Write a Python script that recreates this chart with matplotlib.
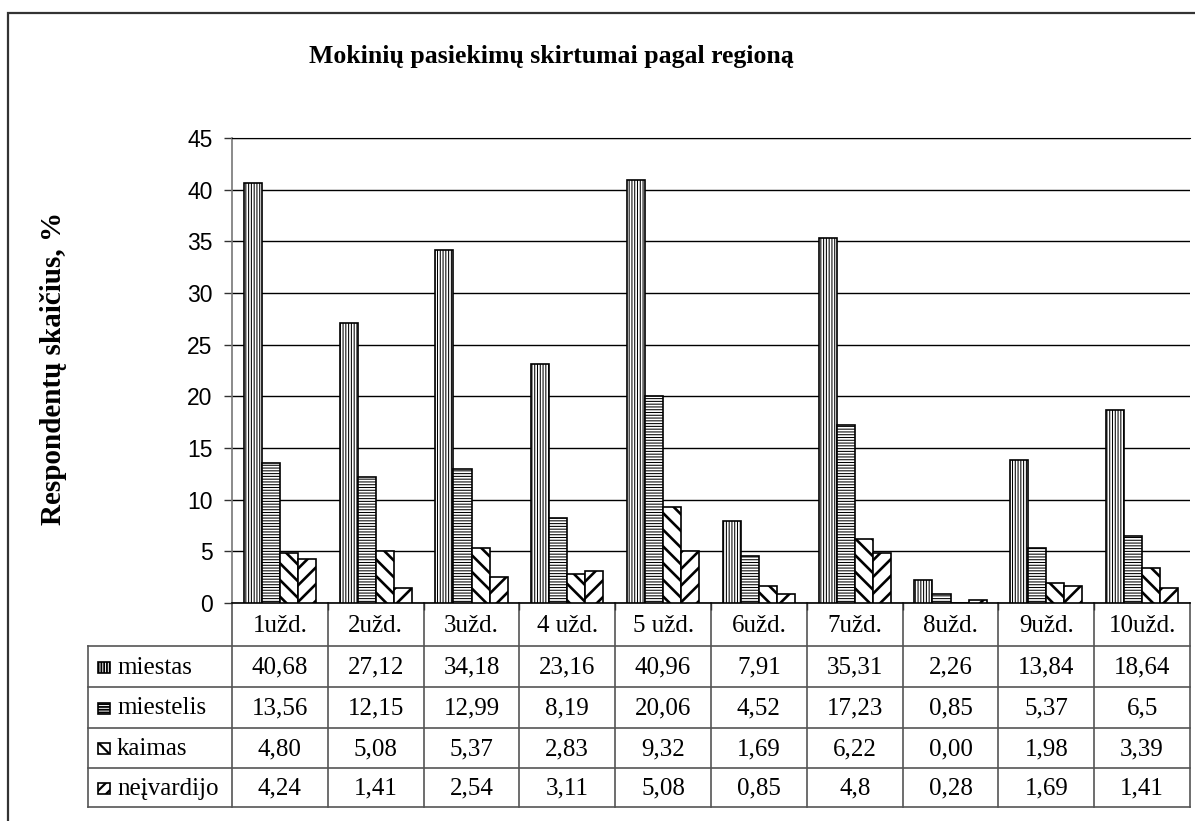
import matplotlib
matplotlib.use("Agg")
import matplotlib.pyplot as plt
import numpy as np
from matplotlib.patches import Rectangle

# ---- data -------------------------------------------------------------
title = "Mokinių pasiekimų skirtumai pagal regioną"
ylabel = "Respondentų skaičius, %"
tasks = ["1užd.", "2užd.", "3užd.", "4 užd.", "5 užd.",
         "6užd.", "7užd.", "8užd.", "9užd.", "10užd."]
series_names = ["miestas", "miestelis", "kaimas", "neįvardijo"]

miestas = ["40,68", "27,12", "34,18", "23,16", "40,96",
           "7,91", "35,31", "2,26", "13,84", "18,64"]
miestelis = ["13,56", "12,15", "12,99", "8,19", "20,06",
             "4,52", "17,23", "0,85", "5,37", "6,5"]
kaimas = ["4,80", "5,08", "5,37", "2,83", "9,32",
          "1,69", "6,22", "0,00", "1,98", "3,39"]
neivardijo = ["4,24", "1,41", "2,54", "3,11", "5,08",
              "0,85", "4,8", "0,28", "1,69", "1,41"]

yticks = [0, 5, 10, 15, 20, 25, 30, 35, 40, 45]

series_text = [miestas, miestelis, kaimas, neivardijo]
series_vals = [[float(s.replace(",", ".")) for s in row] for row in series_text]

# ---- styling ----------------------------------------------------------
hatches = ["||||||", "------", "\\\\", "//"]
hatch_lw = [0.75, 0.75, 1.9, 1.9]
sq_hatches = ["||||||", "------", "\\\\\\", "///"]
sq_hatch_lw = [1.3, 1.3, 1.6, 1.6]
plt.rcParams["hatch.linewidth"] = 0.75

W, H = 1195, 821
fig = plt.figure(figsize=(W / 100, H / 100), dpi=100)

# pixel-based overlay for frame, table and titles
ov = fig.add_axes([0, 0, 1, 1], zorder=0)
ov.set_xlim(0, W)
ov.set_ylim(H, 0)
ov.axis("off")

# plot area in pixel coordinates
px_l, px_r, px_t, px_b = 232, 1190, 138, 603
ax = fig.add_axes([px_l / W, (H - px_b) / H, (px_r - px_l) / W, (px_b - px_t) / H],
                  zorder=1)
ax.patch.set_alpha(0)

n = len(tasks)
x = np.arange(n) + 0.5
bw = 0.188
for k, vals in enumerate(series_vals):
    bars = ax.bar(x + (k - 1.5) * bw, vals, width=bw, facecolor="white",
                  edgecolor="black", linewidth=1.2, hatch=hatches[k], zorder=3)
    for b in bars:
        if hasattr(b, "set_hatch_linewidth"):
            b.set_hatch_linewidth(hatch_lw[k])

ax.set_xlim(0, n)
ax.set_ylim(0, 45)
ax.set_yticks(yticks)
ax.set_yticklabels([str(t) for t in yticks], fontfamily="Liberation Sans", fontsize=16.5)
ax.set_xticks(np.arange(1, n))
ax.set_xticklabels([])
ax.tick_params(axis="y", length=6, width=1, color="#333333", pad=8)
ax.tick_params(axis="x", length=5, width=1, color="#333333", direction="out")
ax.yaxis.grid(True, color="black", linewidth=1.0, zorder=0)
ax.set_axisbelow(True)
ax.spines["right"].set_visible(False)
ax.spines["top"].set_color("black")
ax.spines["left"].set_color("#777777")
ax.spines["left"].set_linewidth(1.2)
ax.spines["bottom"].set_color("black")
ax.spines["bottom"].set_linewidth(1.2)

# ---- outer frame ------------------------------------------------------
ov.plot([8, 8, W + 5], [H + 5, 13, 13], color="#333333", linewidth=1.6,
        solid_joinstyle="miter")

# ---- titles -----------------------------------------------------------
ov.text(551, 56, title, fontfamily="Liberation Serif", fontweight="bold",
        fontsize=18.5, ha="center", va="center")
ov.text(54, 368, ylabel, fontfamily="Liberation Serif", fontweight="bold",
        fontsize=21, ha="center", va="center", rotation=90)

# ---- data table -------------------------------------------------------
tbl_l = 88
col_w = (px_r - px_l) / n
rows_y = [603, 646, 687, 728, 768, 807]
line_c = "#555555"
lw = 1.2
for yy in rows_y[1:]:
    ov.plot([tbl_l, px_r], [yy, yy], color=line_c, linewidth=lw)
ov.plot([tbl_l, tbl_l], [rows_y[1], rows_y[-1]], color=line_c, linewidth=lw)
for i in range(n + 1):
    xx = px_l + i * col_w
    ov.plot([xx, xx], [rows_y[0], rows_y[-1]], color=line_c, linewidth=lw)

txt_kw = dict(fontfamily="Liberation Serif", fontsize=18, va="center")
for i, lab in enumerate(tasks):
    ov.text(px_l + (i + 0.5) * col_w, (rows_y[0] + rows_y[1]) / 2 + 1, lab,
            ha="center", **txt_kw)

for r, (name, row) in enumerate(zip(series_names, series_text)):
    yc = (rows_y[r + 1] + rows_y[r + 2]) / 2 + 1
    sq = Rectangle((98, yc - 5.5), 12, 11, facecolor="white", edgecolor="black",
                   linewidth=1.2, hatch=sq_hatches[r])
    if hasattr(sq, "set_hatch_linewidth"):
        sq.set_hatch_linewidth(sq_hatch_lw[r])
    ov.add_patch(sq)
    ov.text(117, yc, name, ha="left", **txt_kw)
    for i, s in enumerate(row):
        ov.text(px_l + (i + 0.5) * col_w, yc, s, ha="center", **txt_kw)

fig.savefig("out.png", dpi=100)
